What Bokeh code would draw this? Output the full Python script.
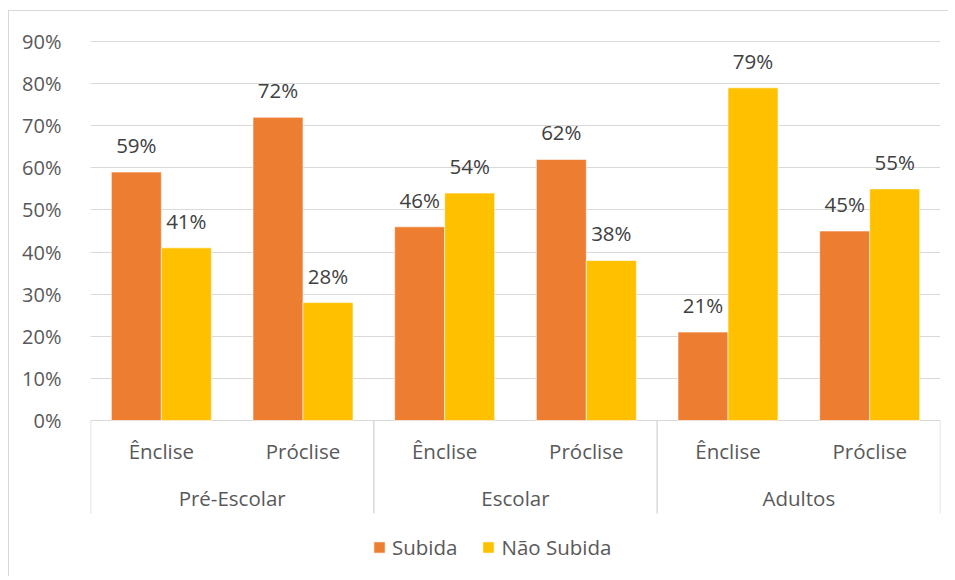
from bokeh.plotting import figure
from bokeh.models import (FactorRange, ColumnDataSource, FixedTicker, NumeralTickFormatter,
                          Legend, LegendItem, Range1d)
from bokeh.transform import dodge
from bokeh.core.properties import value
from bokeh.embed import file_html
from bokeh.resources import INLINE

# ---- data ----
groups = ["Pré-Escolar", "Escolar", "Adultos"]
subs = ["Ênclise", "Próclise"]
series_names = ["Subida", "Não Subida"]
subida = [0.59, 0.72, 0.46, 0.62, 0.21, 0.45]
nao_subida = [0.41, 0.28, 0.54, 0.38, 0.79, 0.55]
y_ticks = [0.0, 0.1, 0.2, 0.3, 0.4, 0.5, 0.6, 0.7, 0.8, 0.9]

colors = ["#ED7D31", "#FFC000"]
FONT = "Open Sans"
TICK_COLOR = "#595959"
LABEL_COLOR = "#404040"
GRID = "#d9d9d9"
FS = "20.5px"

factors = [(g, s) for g in groups for s in subs]

x_range = FactorRange(*factors, factor_padding=0, group_padding=0, subgroup_padding=0,
                      range_padding=0)
y_range = Range1d(-0.3728, 0.9309)

p = figure(width=940, height=566, x_range=x_range, y_range=y_range,
           output_backend="svg", toolbar_location=None, x_axis_location=None,
           min_border_left=81, min_border_right=9, min_border_top=17, min_border_bottom=0)
p.styles = {"border-top": f"1px solid {GRID}", "border-left": f"1px solid {GRID}",
            "margin-left": "8px", "margin-top": "10px"}
p.outline_line_color = None
p.background_fill_color = "white"
p.border_fill_color = "white"

# y axis
p.yaxis.ticker = FixedTicker(ticks=y_ticks)
p.yaxis.formatter = NumeralTickFormatter(format="0%")
p.yaxis.axis_line_color = None
p.yaxis.major_tick_line_color = None
p.yaxis.minor_tick_line_color = None
p.yaxis.major_label_standoff = 23
p.yaxis.major_label_text_font = FONT
p.yaxis.major_label_text_font_size = "20px"
p.yaxis.major_label_text_color = TICK_COLOR

p.xgrid.visible = False
p.ygrid.ticker = FixedTicker(ticks=y_ticks)
p.ygrid.grid_line_color = GRID
p.ygrid.grid_line_width = 1

# bars
bar_w = 0.353
src = ColumnDataSource(dict(
    x=factors, subida=subida, nao=nao_subida,
    lab_s=[f"{round(v*100)}%" for v in subida],
    lab_n=[f"{round(v*100)}%" for v in nao_subida],
))
r1 = p.vbar(x=dodge("x", -bar_w / 2, range=p.x_range), top="subida", width=bar_w, source=src,
            fill_color=colors[0], line_color="white", line_width=0.6)
r2 = p.vbar(x=dodge("x", bar_w / 2, range=p.x_range), top="nao", width=bar_w, source=src,
            fill_color=colors[1], line_color="white", line_width=0.6)

# data labels
for col, lab, off in (("subida", "lab_s", -bar_w / 2), ("nao", "lab_n", bar_w / 2)):
    p.text(x=dodge("x", off, range=p.x_range), y=col, text=lab, source=src,
           text_align="center", text_baseline="alphabetic", y_offset=-27,
           text_font=value(FONT), text_font_size=FS, text_color=LABEL_COLOR)

# category axis labels (drawn from the factors)
sub_src = ColumnDataSource(dict(x=factors, y=[0] * len(factors), t=[f[1] for f in factors]))
p.text(x="x", y="y", text="t", source=sub_src, text_align="center", text_baseline="middle",
       y_offset=30, text_font=value(FONT), text_font_size=FS, text_color=TICK_COLOR)
grp_src = ColumnDataSource(dict(x=groups, y=[0] * len(groups), t=groups))
p.text(x="x", y="y", text="t", source=grp_src, text_align="center", text_baseline="middle",
       y_offset=77, text_font=value(FONT), text_font_size=FS, text_color=TICK_COLOR)

# axis line and group separators
sep_depth = -0.221
left_src = ColumnDataSource(dict(x=[(g, subs[0]) for g in groups], y0=[0] * len(groups),
                                 y1=[sep_depth] * len(groups)))
p.segment(x0=dodge("x", -0.5, range=p.x_range), x1=dodge("x", -0.5, range=p.x_range),
          y0="y0", y1="y1", source=left_src, line_color=GRID, line_width=1.5)
right_src = ColumnDataSource(dict(x=[(groups[-1], subs[-1])], y0=[0], y1=[sep_depth]))
p.segment(x0=dodge("x", 0.5, range=p.x_range), x1=dodge("x", 0.5, range=p.x_range),
          y0="y0", y1="y1", source=right_src, line_color=GRID, line_width=1.5)

# legend
legend = Legend(items=[LegendItem(label=series_names[0], renderers=[r1]),
                       LegendItem(label=series_names[1], renderers=[r2])],
                orientation="horizontal", location=(282, 16),
                border_line_color=None, background_fill_alpha=0, padding=0, margin=0,
                spacing=24, label_standoff=6, glyph_width=14, glyph_height=14,
                label_text_font=FONT, label_text_font_size=FS,
                label_text_color=TICK_COLOR)
p.add_layout(legend)

open("out.html", "w").write(file_html(p, INLINE))
